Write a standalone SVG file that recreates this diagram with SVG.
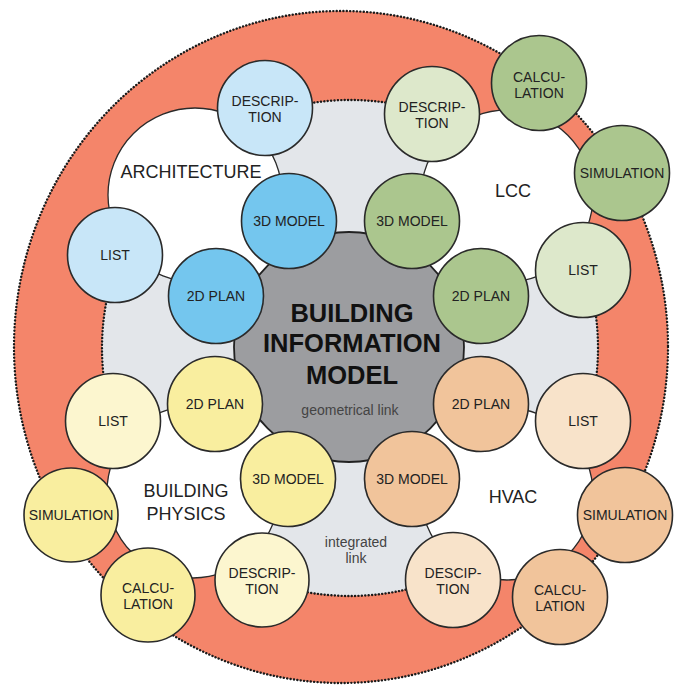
<svg xmlns="http://www.w3.org/2000/svg" width="678" height="687" viewBox="0 0 678 687">
<style>
  .band{fill:#F4856A;stroke:#1a1a1a;stroke-width:2.4;stroke-dasharray:0.1 3.3;stroke-linecap:round}
  .inner{fill:#E3E6EA;stroke:#1a1a1a;stroke-width:2.4;stroke-dasharray:0.1 3.3;stroke-linecap:round}
  .blob{fill:#ffffff;stroke:#2a2a2a;stroke-width:1.3}
  .rod{stroke:#ffffff;stroke-width:14;stroke-linecap:butt}
  .bim{fill:#9C9DA0;stroke:#222;stroke-width:1.8}
  .sat{stroke:#2a2a2a;stroke-width:1.6}
  .bd{fill:#74C6EE}.bl{fill:#C8E6F8}
  .gd{fill:#ABC68E}.gl{fill:#DDE8CB}
  .yd{fill:#F9EE9F}.yl{fill:#FCF6CF}
  .pd{fill:#F1C49B}.pl{fill:#F8E3CA}
  text{font-family:"Liberation Sans",Arial,Helvetica,sans-serif;fill:#222;text-anchor:middle}
  .t{font-size:14px}
  .big{font-size:18px}
  .title{font-size:25.5px;font-weight:bold;fill:#111}
  .small{font-size:14px;fill:#444}
</style>
<rect x="0" y="0" width="678" height="687" fill="#ffffff"/>
<g id="background">
  <ellipse class="band" cx="341" cy="347" rx="327" ry="336"/>
  <circle class="inner" cx="350" cy="348" r="248"/>
</g>
<g id="domains">
  <circle class="blob" cx="195" cy="195" r="87"/>
  <circle class="blob" cx="507" cy="196" r="86"/>
  <circle class="blob" cx="193" cy="492" r="86"/>
  <circle class="blob" cx="507" cy="494" r="86"/>
</g>
<g id="connectors">
  <line class="rod" x1="246.6" y1="253.1" x2="274.6" y2="278.8"/>
  <line class="rod" x1="452.4" y1="253.1" x2="424.3" y2="278.7"/>
  <line class="rod" x1="245.8" y1="447.1" x2="273.0" y2="420.6"/>
  <line class="rod" x1="452.2" y1="447.1" x2="425.0" y2="420.6"/>
</g>
<g id="bim">
  <circle class="bim" cx="349" cy="347" r="115"/>
  <text class="title" x="352" y="322">BUILDING</text>
  <text class="title" x="352" y="352">INFORMATION</text>
  <text class="title" x="352" y="384">MODEL</text>
  <text class="small" x="350" y="415">geometrical link</text>
</g>
<g id="labels">
  <text class="big" x="191" y="178">ARCHITECTURE</text>
  <text class="big" x="513" y="197">LCC</text>
  <text class="big" x="186" y="497">BUILDING</text>
  <text class="big" x="186" y="520">PHYSICS</text>
  <text class="big" x="513" y="503">HVAC</text>
  <text class="small" x="356" y="547">integrated</text>
  <text class="small" x="356" y="563">link</text>
</g>
<g id="arch-description"><circle class="sat bl" cx="265" cy="108" r="47.5"/><text class="t" x="265" y="105.5">DESCRIP-</text><text class="t" x="265" y="122">TION</text></g>
<g id="arch-3dmodel"><circle class="sat bd" cx="289" cy="221" r="47.5"/><text class="t" x="289" y="226">3D MODEL</text></g>
<g id="arch-list"><circle class="sat bl" cx="115" cy="255" r="47.5"/><text class="t" x="115" y="260">LIST</text></g>
<g id="arch-2dplan"><circle class="sat bd" cx="216" cy="296" r="47.5"/><text class="t" x="216" y="301">2D PLAN</text></g>

<g id="lcc-description"><circle class="sat gl" cx="432" cy="114" r="47.5"/><text class="t" x="432" y="111.5">DESCRIP-</text><text class="t" x="432" y="128">TION</text></g>
<g id="lcc-calculation"><circle class="sat gd" cx="539" cy="83" r="47.5"/><text class="t" x="539" y="81.5">CALCU-</text><text class="t" x="539" y="98">LATION</text></g>
<g id="lcc-simulation"><circle class="sat gd" cx="622" cy="173" r="47.5"/><text class="t" x="622" y="178">SIMULATION</text></g>
<g id="lcc-3dmodel"><circle class="sat gd" cx="412" cy="221" r="47.5"/><text class="t" x="412" y="226">3D MODEL</text></g>
<g id="lcc-list"><circle class="sat gl" cx="583" cy="270" r="47.5"/><text class="t" x="583" y="275">LIST</text></g>
<g id="lcc-2dplan"><circle class="sat gd" cx="481" cy="296" r="47.5"/><text class="t" x="481" y="301">2D PLAN</text></g>

<g id="bp-list"><circle class="sat yl" cx="113" cy="421" r="47.5"/><text class="t" x="113" y="426">LIST</text></g>
<g id="bp-2dplan"><circle class="sat yd" cx="215" cy="404" r="47.5"/><text class="t" x="215" y="409">2D PLAN</text></g>
<g id="bp-3dmodel"><circle class="sat yd" cx="288" cy="479" r="47.5"/><text class="t" x="288" y="484">3D MODEL</text></g>
<g id="bp-simulation"><circle class="sat yd" cx="71" cy="515" r="47"/><text class="t" x="71" y="520">SIMULATION</text></g>
<g id="bp-calculation"><circle class="sat yd" cx="148" cy="595" r="47"/><text class="t" x="148" y="592.5">CALCU-</text><text class="t" x="148" y="609">LATION</text></g>
<g id="bp-description"><circle class="sat yl" cx="262" cy="580" r="47"/><text class="t" x="262" y="577.5">DESCRIP-</text><text class="t" x="262" y="594">TION</text></g>

<g id="hvac-2dplan"><circle class="sat pd" cx="481" cy="404" r="47.5"/><text class="t" x="481" y="409">2D PLAN</text></g>
<g id="hvac-list"><circle class="sat pl" cx="583" cy="421" r="47.5"/><text class="t" x="583" y="426">LIST</text></g>
<g id="hvac-3dmodel"><circle class="sat pd" cx="412" cy="479" r="47.5"/><text class="t" x="412" y="484">3D MODEL</text></g>
<g id="hvac-simulation"><circle class="sat pd" cx="625" cy="515" r="47.5"/><text class="t" x="625" y="520">SIMULATION</text></g>
<g id="hvac-calculation"><circle class="sat pd" cx="560" cy="597" r="47.5"/><text class="t" x="560" y="594.5">CALCU-</text><text class="t" x="560" y="611">LATION</text></g>
<g id="hvac-description"><circle class="sat pl" cx="453" cy="580" r="47.5"/><text class="t" x="453" y="577.5">DESCIP-</text><text class="t" x="453" y="594">TION</text></g>
</svg>
